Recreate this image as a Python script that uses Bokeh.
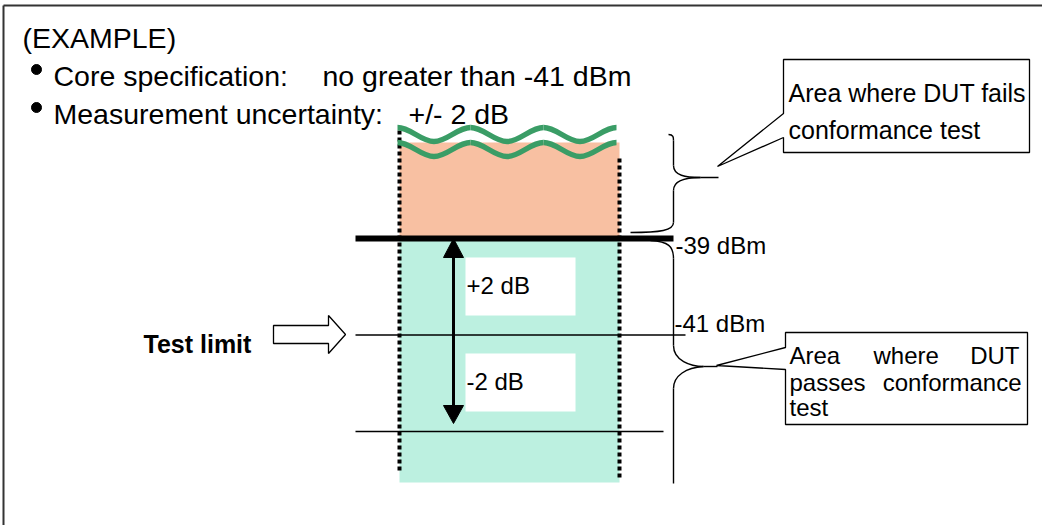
from bokeh.plotting import figure
from bokeh.models import Range1d
from bokeh.core.properties import value
from bokeh.embed import file_html
from bokeh.resources import INLINE

# ---------------- data ----------------
core_spec_dbm = -41          # core specification
uncertainty_db = 2           # measurement uncertainty
test_limit_dbm = core_spec_dbm + uncertainty_db   # -39
levels_dbm = [test_limit_dbm, core_spec_dbm, core_spec_dbm - uncertainty_db]  # -39, -41, -43
level_labels = [f"{test_limit_dbm} dBm", f"{core_spec_dbm} dBm"]
delta_labels = [f"+{uncertainty_db} dB", f"-{uncertainty_db} dB"]
header_lines = ["(EXAMPLE)"]
bullet_left = ["Core specification:", "Measurement uncertainty:"]
bullet_right = [f"no greater than {core_spec_dbm} dBm", f"+/- {uncertainty_db} dB"]
fail_text = ["Area where DUT fails", "conformance test"]
pass_words = ["Area", "where", "DUT", "passes", "conformance", "test"]

# ---------------- layout helpers (diagram geometry) ----------------
W, H = 1042, 525
PX_PER_DB = 48.25
Y_LIMIT_PX = 238.0


def yv(px):
    """vertical diagram position (pixel row) -> dBm"""
    return test_limit_dbm - (px - Y_LIMIT_PX) / PX_PER_DB


FONT = value("Liberation Sans")

p = figure(width=W, height=H, output_backend="svg", toolbar_location=None,
           x_range=Range1d(0, W), y_range=Range1d(yv(H), yv(0)),
           x_axis_type=None, y_axis_type=None, min_border=0)
p.grid.visible = False
p.outline_line_color = None
p.background_fill_color = "white"
p.border_fill_color = "white"

# outer frame (left and top)
p.line([3, 3], [yv(H), yv(5)], line_color="#333333", line_width=2)
p.line([3, W], [yv(5), yv(5)], line_color="#333333", line_width=2)

# zones
XL, XR = 399, 619
p.quad(left=[XL], right=[XR], bottom=[test_limit_dbm], top=[yv(142)],
       fill_color="#f8c0a2", line_color=None)
p.quad(left=[XL], right=[XR], bottom=[yv(482)], top=[test_limit_dbm],
       fill_color="#bcf0e0", line_color=None)

# dotted borders
p.line([XL, XL], [yv(130), yv(470)], line_color="black", line_width=4, line_dash="4 3")
p.line([XR, XR], [yv(158), yv(478)], line_color="black", line_width=4, line_dash="4 3")

# green break waves
wave_x = [397, 433.5, 470, 506.5, 543, 579.5, 616]
for off in (0, 15):
    ys = [127 + off if i % 2 == 0 else 141 + off for i in range(len(wave_x))]
    x0 = wave_x[:-1]; x1 = wave_x[1:]
    y0 = [yv(v) for v in ys[:-1]]; y1 = [yv(v) for v in ys[1:]]
    cx0 = [a + 13 for a in x0]; cx1 = [b - 13 for b in x1]
    p.bezier(x0=x0, y0=y0, x1=x1, y1=y1, cx0=cx0, cy0=y0, cx1=cx1, cy1=y1,
             line_color="#3a9d66", line_width=5.5)

# level lines
p.line([355, 673], [levels_dbm[0]] * 2, line_color="black", line_width=6)
p.line([355, 685], [levels_dbm[1]] * 2, line_color="black", line_width=1.5)
p.line([355, 663], [levels_dbm[2]] * 2, line_color="black", line_width=1.5)

# white label boxes
p.quad(left=[465, 465], right=[575, 575], top=[yv(257), yv(353)], bottom=[yv(315), yv(411)],
       fill_color="white", line_color=None)

# double arrow
AX = 453
p.line([AX, AX], [yv(252), yv(410)], line_color="black", line_width=3)
p.patch([AX, AX - 10, AX + 10], [yv(238), yv(257), yv(257)], fill_color="black", line_color="black")
p.patch([AX, AX - 10, AX + 10], [yv(423), yv(405), yv(405)], fill_color="black", line_color="black")

# hollow arrow pointing to test limit
p.patch([273, 328, 328, 345, 328, 328, 273],
        [yv(325), yv(325), yv(315), yv(334), yv(353), yv(343), yv(343)],
        fill_color="white", line_color="black", line_width=1.3)

# braces
def brace(segs):
    for s in segs:
        if len(s) == 2:
            (xa, ya), (xb, yb) = s
            p.line([xa, xb], [yv(ya), yv(yb)], line_color="black", line_width=1.4)
        else:
            (xa, ya), (c0x, c0y), (c1x, c1y), (xb, yb) = s
            p.bezier(x0=[xa], y0=[yv(ya)], x1=[xb], y1=[yv(yb)], cx0=[c0x], cy0=[yv(c0y)],
                     cx1=[c1x], cy1=[yv(c1y)], line_color="black", line_width=1.4)

brace([
    [(668, 134), (673, 134), (673, 137), (673, 140)],
    [(673, 140), (673, 165)],
    [(673, 165), (673, 175), (685, 177), (700, 177)],
    [(700, 177), (718, 177)],
    [(700, 177), (685, 177), (673, 180), (673, 190)],
    [(673, 190), (673, 222)],
    [(673, 222), (673, 230), (660, 232), (630, 232)],
])
brace([
    [(650, 240), (668, 241), (673, 246), (673, 258)],
    [(673, 258), (673, 345)],
    [(673, 345), (673, 360), (690, 366), (703, 366)],
    [(703, 366), (717, 366)],
    [(703, 366), (686, 367), (673, 375), (673, 388)],
    [(673, 388), (673, 483)],
])

# callouts
p.patch([783, 1029, 1029, 783, 783, 717, 783],
        [yv(59), yv(59), yv(152), yv(152), yv(137), yv(166), yv(113)],
        fill_color="white", line_color="black", line_width=1.3)
p.patch([785, 1027, 1027, 785, 785, 716, 785],
        [yv(332), yv(332), yv(424), yv(424), yv(369), yv(365), yv(347)],
        fill_color="white", line_color="black", line_width=1.3)

# bullets
p.scatter(x=[36, 36], y=[yv(69), yv(107)], size=10, marker="circle", fill_color="black", line_color="black")


def txt(xs, ys, texts, size, align="left", style="normal"):
    p.text(x=xs, y=[yv(v) for v in ys], text=texts, text_font=FONT, text_font_size=size,
           text_baseline="alphabetic", text_align=align, text_color="black", text_font_style=style)

txt([22], [37], header_lines, "28.5px")
txt([53, 53], [75, 113], bullet_left, "28.5px")
txt([322, 408], [75, 113], bullet_right, "28.5px")
txt([143], [343], ["Test limit"], "25px", style="bold")
txt([466, 466], [285, 381], delta_labels, "24px")
txt([675, 674], [245, 323], level_labels, "24px")
txt([788, 788], [92, 129], fail_text, "25px")
txt([789, 873, 789, 789], [355, 355, 382, 407],
    [pass_words[0], pass_words[1], pass_words[3], pass_words[5]], "24px")
txt([1019, 1021], [355, 382], [pass_words[2], pass_words[4]], "24px", align="right")

open("out.html", "w").write(file_html(p, INLINE))
